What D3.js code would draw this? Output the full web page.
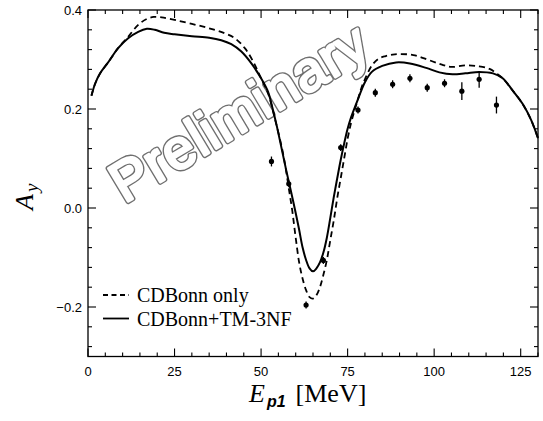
<!DOCTYPE html>
<html>
<head>
<meta charset="utf-8">
<script src="https://cdn.jsdelivr.net/npm/d3@7"></script>
<style>
  body { margin: 0; background: #fff; }
  svg { display: block; }
</style>
</head>
<body>
<div id="chart"></div>
<script>
// theory curves: CDBonn only (dashed) and CDBonn+TM-3NF (solid)
const dashedX = [1, 2, 3.5, 6, 8.7, 11.6, 14.5, 17, 19, 21.3, 25, 30, 35, 39.5, 42.4, 45.3, 47.7, 50, 52, 54, 56, 57, 58, 59, 60, 61, 62, 63, 64, 65, 66, 67, 68, 69, 70, 71, 72, 73, 74, 75, 76, 77, 78, 79, 80, 82, 84, 86, 88, 90, 94, 98, 102, 105, 109, 113, 116, 118, 119.8, 122.6, 125.5, 128, 130];
const dashedY = [0.227, 0.25, 0.272, 0.296, 0.323, 0.346, 0.370, 0.382, 0.386, 0.385, 0.380, 0.372, 0.363, 0.353, 0.343, 0.323, 0.296, 0.262, 0.232, 0.180, 0.122, 0.085, 0.040, -0.005, -0.060, -0.110, -0.143, -0.166, -0.180, -0.183, -0.176, -0.160, -0.135, -0.105, -0.065, -0.025, 0.020, 0.060, 0.100, 0.140, 0.172, 0.197, 0.220, 0.243, 0.260, 0.288, 0.302, 0.307, 0.310, 0.311, 0.309, 0.300, 0.290, 0.285, 0.288, 0.286, 0.281, 0.272, 0.262, 0.238, 0.211, 0.178, 0.141];
const solidX = [1, 2, 3.5, 6, 8.7, 11.6, 14.5, 17, 19.3, 22, 25, 30, 35, 38.5, 41.4, 44.3, 47.2, 50, 52, 53, 54.4, 56, 57.3, 58.5, 60, 61, 62, 63, 64, 65, 66, 67, 68, 69, 70, 71, 72, 73, 74, 75, 76, 77, 78, 79, 80, 82, 85, 89, 93, 97.7, 101.5, 105.3, 109, 113, 117, 119.8, 122.6, 125.5, 128, 130];
const solidY = [0.227, 0.25, 0.272, 0.296, 0.323, 0.343, 0.356, 0.362, 0.360, 0.354, 0.351, 0.347, 0.344, 0.339, 0.331, 0.316, 0.292, 0.262, 0.235, 0.210, 0.170, 0.118, 0.075, 0.038, -0.010, -0.044, -0.080, -0.105, -0.122, -0.128, -0.122, -0.110, -0.090, -0.060, -0.020, 0.022, 0.060, 0.097, 0.130, 0.160, 0.183, 0.202, 0.220, 0.238, 0.254, 0.275, 0.287, 0.294, 0.292, 0.283, 0.274, 0.270, 0.272, 0.275, 0.272, 0.262, 0.238, 0.211, 0.178, 0.141];

// measured points
const dataE = [53, 58, 63, 68, 73, 78, 83, 88, 93, 98, 103, 108, 113, 118];
const dataAy = [0.094, 0.049, -0.196, -0.106, 0.122, 0.198, 0.233, 0.250, 0.262, 0.243, 0.252, 0.236, 0.260, 0.208];
const dataErr = [0.010, 0.007, 0.007, 0.007, 0.007, 0.007, 0.008, 0.008, 0.008, 0.008, 0.008, 0.018, 0.017, 0.017];

const xTicks = [0, 25, 50, 75, 100, 125];
const yTicks = [-0.2, 0.0, 0.2, 0.4];
const legendLabels = ["CDBonn only", "CDBonn+TM-3NF"];

const W = 543, H = 421;
const margin = { top: 10, right: 5, bottom: 64.5, left: 88 };
const width = W - margin.left - margin.right;
const height = H - margin.top - margin.bottom;

const svg = d3.select("#chart").append("svg")
    .attr("width", W)
    .attr("height", H);

const g = svg.append("g")
    .attr("transform", `translate(${margin.left},${margin.top})`);

const x = d3.scaleLinear().domain([0, 130]).range([0, width]);
const y = d3.scaleLinear().domain([-0.3, 0.4]).range([height, 0]);

// watermark behind everything
const wm = g.append("g")
    .attr("transform", `translate(${x(46.5)},${y(0.16)}) rotate(-31)`);
[["#6f6f6f", 5.5], ["#fff", 2.8]].forEach(([col, sw]) => {
    wm.append("text")
        .attr("text-anchor", "middle")
        .style("font-family", "'Liberation Sans', Arial, sans-serif")
        .style("font-size", "56px")
        .style("letter-spacing", "1px")
        .attr("fill", "#fff")
        .attr("stroke", col)
        .attr("stroke-width", sw)
        .attr("stroke-linejoin", "round")
        .attr("stroke-linecap", "round")
        .text("Preliminary");
});

// frame
g.append("rect")
    .attr("width", width)
    .attr("height", height)
    .attr("fill", "none")
    .attr("stroke", "black")
    .attr("stroke-width", 1.3);

// ticks on all four sides, pointing inward
const xMinor = d3.range(0, 131, 5);
const yMinor = d3.range(-0.28, 0.401, 0.04).map(v => +v.toFixed(2));
const tickStroke = 1.1;

function isMajorY(v) { return yTicks.some(t => Math.abs(t - v) < 1e-6); }
function isMajorX(v) { return xTicks.includes(v); }

xMinor.forEach(v => {
    const len = isMajorX(v) ? 8 : 4;
    g.append("line").attr("x1", x(v)).attr("x2", x(v))
        .attr("y1", height).attr("y2", height - len)
        .attr("stroke", "black").attr("stroke-width", tickStroke);
    g.append("line").attr("x1", x(v)).attr("x2", x(v))
        .attr("y1", 0).attr("y2", len)
        .attr("stroke", "black").attr("stroke-width", tickStroke);
});
yMinor.forEach(v => {
    const len = isMajorY(v) ? 8 : 4;
    g.append("line").attr("y1", y(v)).attr("y2", y(v))
        .attr("x1", 0).attr("x2", len)
        .attr("stroke", "black").attr("stroke-width", tickStroke);
    g.append("line").attr("y1", y(v)).attr("y2", y(v))
        .attr("x1", width).attr("x2", width - len)
        .attr("stroke", "black").attr("stroke-width", tickStroke);
});

// tick labels
const labelFont = "'Liberation Sans', Arial, sans-serif";
g.selectAll(".xlab").data(xTicks).enter().append("text")
    .attr("x", d => x(d))
    .attr("y", height + 19)
    .attr("text-anchor", "middle")
    .style("font-family", labelFont)
    .style("font-size", "13px")
    .text(d => d);
g.selectAll(".ylab").data(yTicks).enter().append("text")
    .attr("x", -6)
    .attr("y", d => y(d) + 5)
    .attr("text-anchor", "end")
    .style("font-family", labelFont)
    .style("font-size", "13px")
    .text(d => (d < 0 ? "\u2212" : "") + Math.abs(d).toFixed(1));

// curves
const line = d3.line().curve(d3.curveCatmullRom.alpha(0.5))
    .x(d => x(d[0])).y(d => y(d[1]));

g.append("path")
    .datum(dashedX.map((v, i) => [v, dashedY[i]]))
    .attr("d", line)
    .attr("fill", "none")
    .attr("stroke", "black")
    .attr("stroke-width", 1.8)
    .attr("stroke-dasharray", "6,4");

g.append("path")
    .datum(solidX.map((v, i) => [v, solidY[i]]))
    .attr("d", line)
    .attr("fill", "none")
    .attr("stroke", "black")
    .attr("stroke-width", 2);

// data points with error bars
const pts = dataE.map((v, i) => ({ e: v, a: dataAy[i], err: dataErr[i] }));
g.selectAll(".err").data(pts).enter().append("line")
    .attr("x1", d => x(d.e)).attr("x2", d => x(d.e))
    .attr("y1", d => y(d.a - d.err)).attr("y2", d => y(d.a + d.err))
    .attr("stroke", "black").attr("stroke-width", 1.3);
g.selectAll(".pt").data(pts).enter().append("circle")
    .attr("cx", d => x(d.e)).attr("cy", d => y(d.a))
    .attr("r", 2.6)
    .attr("fill", "black");

// legend
const serif = "'Liberation Serif', 'Times New Roman', serif";
legendLabels.forEach((lab, i) => {
    const ly = 295 + i * 23.5 - margin.top;
    g.append("line")
        .attr("x1", 103 - margin.left).attr("x2", 129 - margin.left)
        .attr("y1", ly).attr("y2", ly)
        .attr("stroke", "black").attr("stroke-width", 1.8)
        .attr("stroke-dasharray", i === 0 ? "5,3.5" : null);
    g.append("text")
        .attr("x", 137 - margin.left)
        .attr("y", ly + 7)
        .style("font-family", serif)
        .style("font-size", "20px")
        .text(lab);
});

// axis titles
const xt = svg.append("text")
    .attr("x", 249)
    .attr("y", 402)
    .style("font-family", serif)
    .style("font-size", "26px");
xt.append("tspan").style("font-style", "italic").text("E");
xt.append("tspan").attr("dy", 5).attr("dx", 2)
    .style("font-family", labelFont).style("font-style", "italic")
    .style("font-weight", "bold").style("font-size", "16px").text("p1");
xt.append("tspan").attr("dy", -5).attr("dx", 10).text("[MeV]");

const yt = svg.append("text")
    .attr("transform", "translate(33,210) rotate(-90)")
    .style("font-family", serif)
    .style("font-size", "26px");
yt.append("tspan").style("font-style", "italic").text("A");
yt.append("tspan").attr("dy", 5).attr("dx", 2)
    .style("font-style", "italic").style("font-size", "19px").text("y");
</script>
</body>
</html>
